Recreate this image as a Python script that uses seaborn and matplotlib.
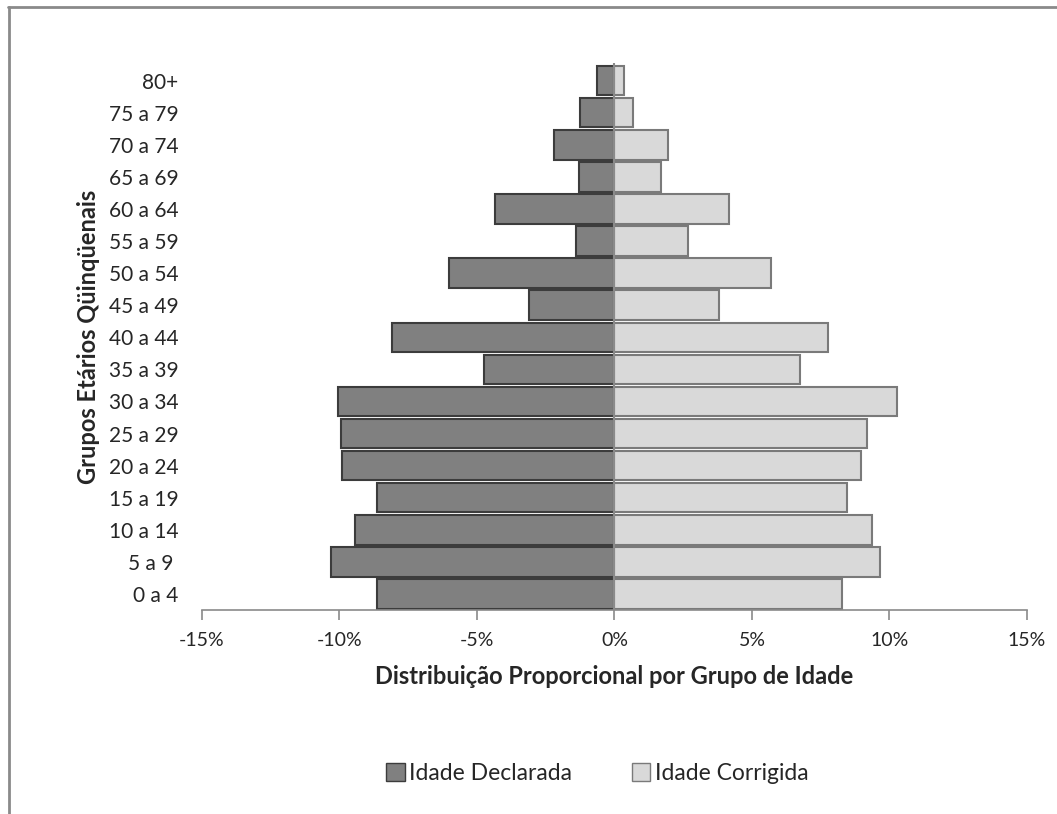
import pandas as pd
import matplotlib
matplotlib.use("Agg")
import matplotlib.pyplot as plt
import seaborn as sns
from matplotlib.lines import Line2D
from matplotlib.patches import Patch
from matplotlib.ticker import FuncFormatter

# Age groups, top to bottom as in the chart
groups = ['80+', '75 a 79', '70 a 74', '65 a 69', '60 a 64', '55 a 59', '50 a 54',
          '45 a 49', '40 a 44', '35 a 39', '30 a 34', '25 a 29', '20 a 24',
          '15 a 19', '10 a 14', '5 a 9 ', '0 a 4']

# Percent of population (declared shown on the negative side)
declarada = [-0.65, -1.24, -2.2, -1.3, -4.36, -1.38, -6.0, -3.09, -8.07, -4.76,
             -10.04, -9.96, -9.89, -8.65, -9.45, -10.29, -8.62]
corrigida = [0.33, 0.69, 1.96, 1.71, 4.18, 2.69, 5.71, 3.82, 7.75, 6.76,
             10.29, 9.2, 8.98, 8.44, 9.38, 9.64, 8.29]

data = pd.DataFrame({'Grupo': groups, 'Declarada': declarada, 'Corrigida': corrigida})

sns.set_style('white')
plt.rcParams['font.family'] = ['Lato', 'DejaVu Sans']

fig = plt.figure(figsize=(10.57, 8.14), dpi=100)
ax = fig.add_axes([0.191, 0.2506, 0.7806, 0.672])

dark = '#808080'
light = '#d9d9d9'

sns.barplot(x='Declarada', y='Grupo', data=data, order=groups, orient='h',
            color=dark, saturation=1, width=0.92, edgecolor='#3c3c3c',
            linewidth=1.5, ax=ax)
sns.barplot(x='Corrigida', y='Grupo', data=data, order=groups, orient='h',
            color=light, saturation=1, width=0.92, edgecolor='#7a7a7a',
            linewidth=1.5, ax=ax)

ax.axvline(0, color='#8a8a8a', lw=1.5, zorder=5)

ax.set_xlim(-15, 15)
ax.set_ylim(len(groups) - 0.5, -0.55)
ax.set_xticks([-15, -10, -5, 0, 5, 10, 15])
ax.xaxis.set_major_formatter(FuncFormatter(lambda v, p: f"{int(round(v))}%"))

for s in ['top', 'right', 'left']:
    ax.spines[s].set_visible(False)
ax.spines['bottom'].set_color('#8a8a8a')
ax.spines['bottom'].set_linewidth(1.2)
ax.tick_params(axis='x', direction='out', length=7, width=1.2, color='#8a8a8a',
               labelsize=14, pad=9, bottom=True)
ax.tick_params(axis='y', length=0, labelsize=15, pad=17)

ax.set_xlabel('Distribuição Proporcional por Grupo de Idade', fontsize=17,
              fontweight='bold', labelpad=11)
ax.set_ylabel('Grupos Etários Qüinqüenais', fontsize=17, fontweight='bold',
              labelpad=6)

handles = [Patch(facecolor=dark, edgecolor='#3c3c3c', label='Idade Declarada'),
           Patch(facecolor=light, edgecolor='#7a7a7a', label='Idade Corrigida')]
fig.legend(handles=handles, loc='center', bbox_to_anchor=(0.565, 0.05), ncol=2,
           frameon=False, fontsize=16.5, handlelength=0.8, handleheight=0.8,
           handletextpad=0.2, columnspacing=2.6)

# partial gray frame (top and left edges)
fig.add_artist(Line2D([0.0075, 1.0], [0.9915, 0.9915], color='#8a8a8a', lw=2,
                      transform=fig.transFigure))
fig.add_artist(Line2D([0.0085, 0.0085], [0.0, 0.9915], color='#8a8a8a', lw=2,
                      transform=fig.transFigure))

fig.savefig('out.png', dpi=100)
